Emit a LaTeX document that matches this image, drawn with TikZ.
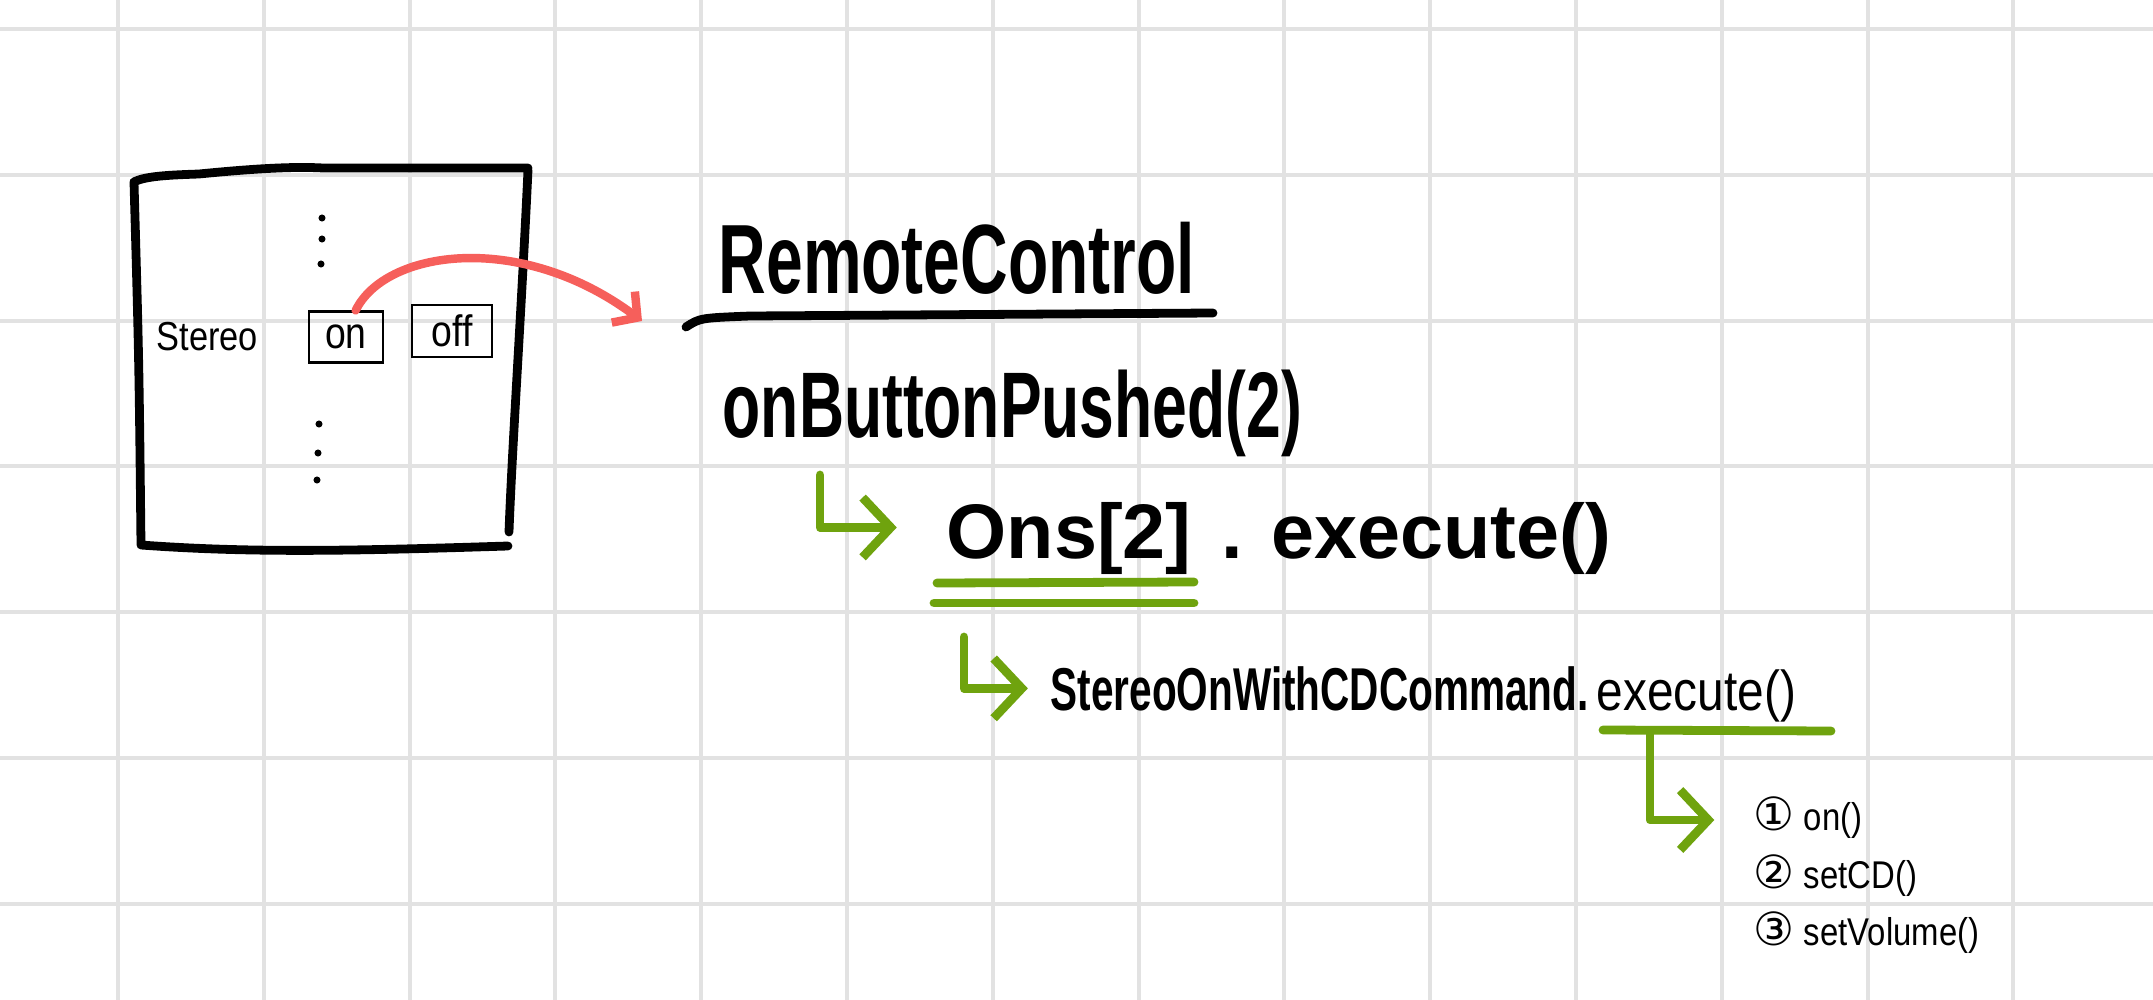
\documentclass[tikz,border=0pt]{standalone}
\usepackage{fontspec}
\usepackage{tikz}
\usetikzlibrary{arrows.meta}
\usetikzlibrary{positioning}
\newfontfamily\handbold[FakeStretch=0.67]{Liberation Sans}
\newfontfamily\handwide{Liberation Sans}
\newfontfamily\handthin[FakeStretch=0.85]{Liberation Sans}
\newfontfamily\circfont{DejaVu Sans}
\newcommand{\penbold}[1]{\handbold\bfseries\fontsize{#1}{#1}\selectfont}
\newcommand{\penwide}[1]{\handwide\bfseries\fontsize{#1}{#1}\selectfont}
\newcommand{\penthin}[1]{\handthin\fontsize{#1}{#1}\selectfont}
\newcommand{\circnum}[1]{{\circfont\fontsize{13}{13}\selectfont #1}}
\definecolor{redpen}{HTML}{F65F5B}
\definecolor{greenpen}{HTML}{6FA30E}
\definecolor{gridgray}{HTML}{E2E2E2}
\tikzstyle{gridline} = [draw=gridgray, line width=1.1pt]
\tikzstyle{penline} = [draw=black, line width=2.5pt, line cap=round, line join=round]
\tikzstyle{greenline} = [draw=greenpen, line width=2.5pt, line cap=round]
\tikzstyle{greenarrow} = [greenline, line join=round, ->, >={Straight Barb[length=8pt, width=17pt]}]
\tikzstyle{redarrow} = [draw=redpen, line width=2.4pt, line cap=round, ->, >={Straight Barb[length=5pt, width=11pt]}]
\tikzstyle{button} = [rectangle, draw, line width=0.6pt, inner sep=0pt, font=\penthin{12.5}]
\tikzstyle{hand} = [inner sep=0pt, anchor=base west]
\tikzstyle{listtext} = [inner sep=0pt, anchor=west, text height=9pt, text depth=3pt, font=\penthin{11}]

\begin{document}
\begin{tikzpicture}[x=0.01cm, y=-0.01cm]
   \useasboundingbox (0,0) rectangle (2153,1000);
   \fill[white] (0,0) rectangle (2153,1000);
   % grid paper
   \foreach \i in {0,...,13}
     \draw[gridline] (118+145.8*\i,0) -- (118+145.8*\i,1000);
   \foreach \j in {0,...,6}
     \draw[gridline] (0,29+145.8*\j) -- (2153,29+145.8*\j);

   % Stereo box
   \draw[penline] (528,168) -- (323,168) .. controls (288,166) and (240,170) .. (199,174)
      .. controls (170,175) and (145,176) .. (134,182)
      .. controls (139,360) .. (141,545) .. controls (250,553) and (350,551) .. (508,546);
   \draw[penline] (528,170) .. controls (522,300) and (512,450) .. (509,532);
   \foreach \p in {(322,218),(322,239),(321,264),(319,424),(318,453),(317,480)}
     \fill \p circle (1pt);

   % Place nodes
   \node [hand, font=\penthin{11.5}] (stereo) at (156,350) {Stereo};
   \node [button, minimum width=20.8pt, minimum height=14.5pt] (on) at (346,337) {on};
   \node [button, minimum width=22.5pt, minimum height=15pt] (off) at (452,331) {off};
   \node [hand, font=\penbold{28}] (remote) at (718,293) {RemoteControl};
   \node [hand, font=\penbold{26.5}] (pushed) at (722,437) {onButtonPushed(2)};
   \node [hand, font=\penwide{22}] (ons) at (946,558) {Ons[2]};
   \node [hand, font=\penwide{22}, base right = 8pt of ons] (onsexec) {. execute()};
   \node [hand, font=\penbold{17.2}] (cmd) at (1050,710) {StereoOnWithCDCommand.};
   \node [hand, font=\penthin{16}, base right = 2pt of cmd] (cmdexec) {execute()};
   \node [listtext] (l1) at (1753,820) {\circnum{①} on()};
   \node [listtext, below right = 4pt and 0pt of l1.south west, anchor=north west] (l2) {\circnum{②} setCD()};
   \node [listtext, below right = 4pt and 0pt of l2.south west, anchor=north west] (l3) {\circnum{③} setVolume()};
   \coordinate (redtip) at (642,321);
   \coordinate (g1) at (820,475);
   \coordinate (g2) at (964,637);
   \coordinate (g3) at (1650,731);

   % underlines
   \draw[penline] (686,327) .. controls (700,318) .. (750,316) -- (1213,313);
   \draw[greenline] (937,583) -- (1194,582);
   \draw[greenline] (934,603) -- (1194,603);
   \draw[greenline] (1603,730) -- (1831,731);

   % arrows
   \draw[redarrow] (on.70) .. controls (385,250) and (520,230) .. (redtip);
   \draw[greenarrow, shorten >=14pt] (g1) |- ([yshift=3pt]ons.west);
   \draw[greenarrow, shorten >=6.3pt] (g2) |- (cmd.west);
   \draw[greenarrow, shorten >=11pt] (g3) |- (l1.west);
\end{tikzpicture}
\end{document}
